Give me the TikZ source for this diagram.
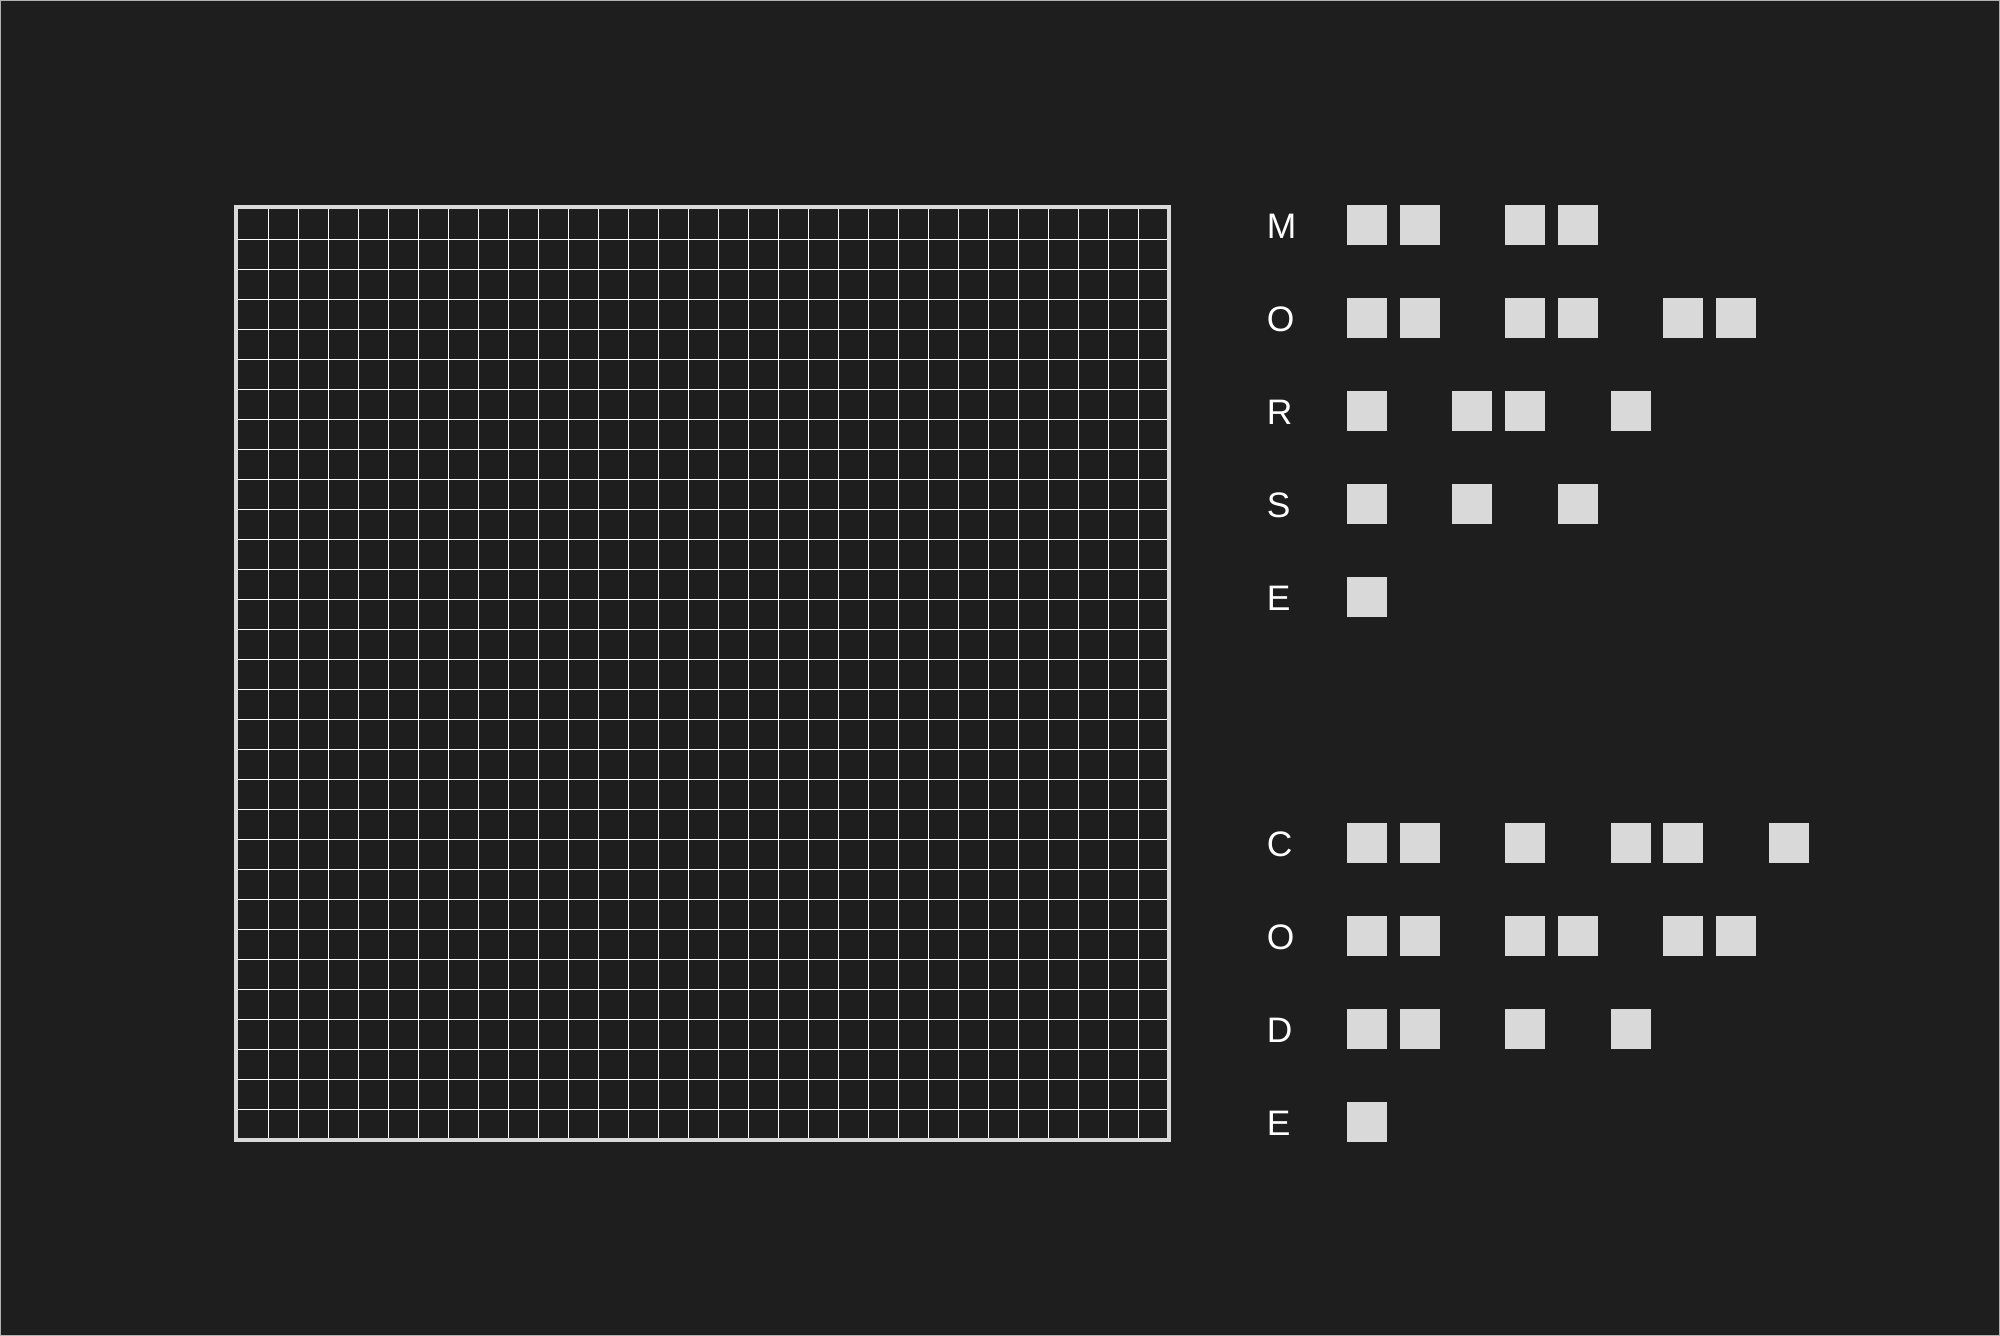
\documentclass[tikz,border=0pt]{standalone}
\usepackage{fontspec}
\setmainfont{Liberation Sans}
\definecolor{bg}{HTML}{1E1E1E}
\definecolor{sqgray}{HTML}{D9D9D9}
\begin{document}
\begin{tikzpicture}[x=0.5pt,y=-0.5pt,
    letter/.style={anchor=base west,inner sep=0pt,text=white,font=\fontsize{17.7}{20}\selectfont}]
    \fill[bg] (0,0) rectangle (2000,1336);
    \draw[gray!60,line width=0.5pt] (0.5,0.5) rectangle (1999.5,1335.5);
    % grid
    \foreach \k in {1,2,...,30}{
      \draw[white,line width=0.5pt] (238.3+30*\k,209)--(238.3+30*\k,1138);
      \draw[white,line width=0.5pt] (238,209.3+30*\k)--(1167,209.3+30*\k);
    }
    \draw[sqgray,line width=2pt] (236,207) rectangle (1169,1140);
    % letters and their dots and dashes
    \foreach \lname/\ltr/\ytop/\slots in {m1/M/205/{0,1,3,4}, o1/O/298/{0,1,3,4,6,7},
        r1/R/391/{0,2,3,5}, s1/S/484/{0,2,4}, e1/E/577/{0},
        c2/C/823/{0,1,3,5,6,8}, o2/O/916/{0,1,3,4,6,7}, d2/D/1009/{0,1,3,5}, e2/E/1102/{0}}{
      \node[letter] (\lname) at (1266.5,\ytop+33.8) {\ltr};
      \foreach \s in \slots {
        \fill[sqgray] (1347+52.7*\s,\ytop) rectangle +(40,40);
      }
    }
\end{tikzpicture}
\end{document}
